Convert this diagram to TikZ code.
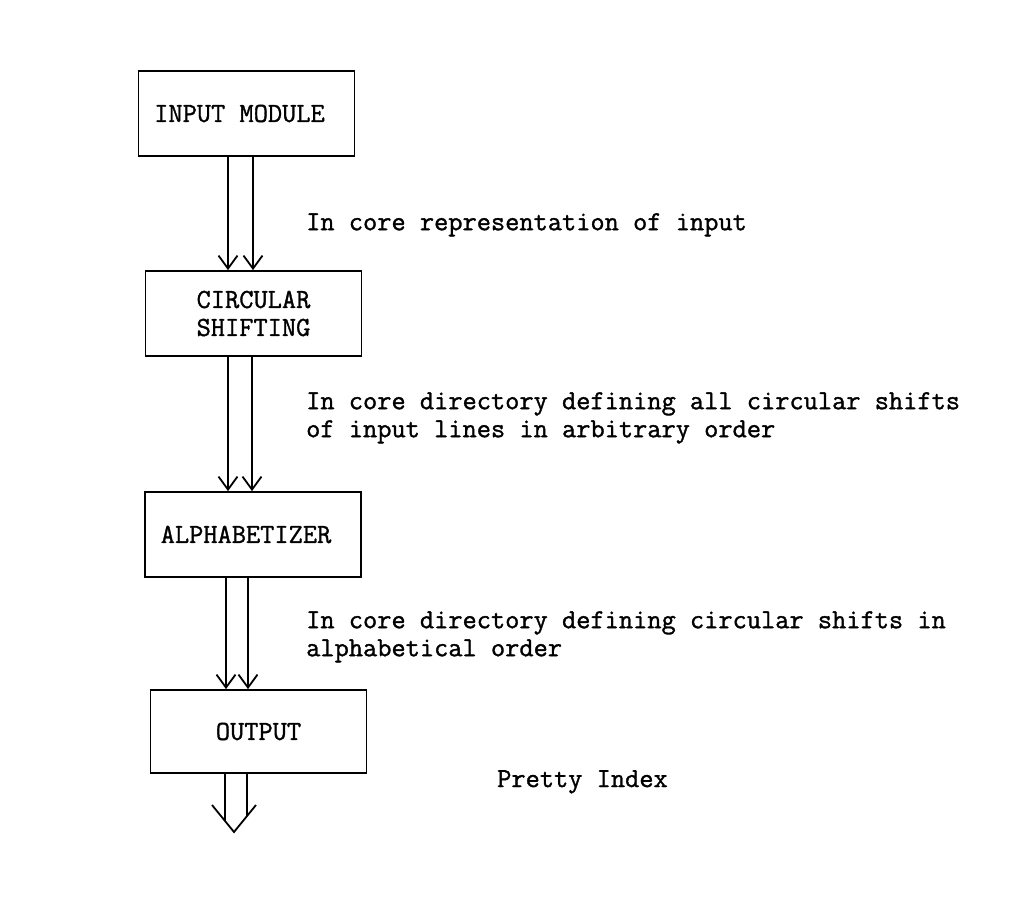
\documentclass[tikz,border=0pt]{standalone}
\usepackage{fontspec}
\newfontfamily\typer{Latin Modern Mono}[FakeBold=1.2]
\usepackage{tikz}
\usetikzlibrary{arrows.meta,positioning}

\begin{document}
\begin{tikzpicture}[
    x=1pt, y=-1pt,
    module/.style={draw, line width=1.8pt, minimum width=216pt, minimum height=85pt, inner sep=0pt, align=center, font=\typer\fontsize{27.6}{28}\selectfont},
    note/.style={anchor=north west, inner sep=0pt, align=left, font=\typer\fontsize{27.6}{28}\selectfont},
    flow/.style={line width=1.8pt, -{Straight Barb[length=13pt,width=19pt]}},
    shaft/.style={line width=1.8pt}
]
\useasboundingbox (0,0) rectangle (1018,904);
\node[module] (inmod) at (246.5,113.5) {INPUT MODULE\hspace*{14pt}};
\node[module] (circ) at (253.5,313.5) {CIRCULAR\\SHIFTING};
\node[module] (alpha) at (253,534.5) {ALPHABETIZER\hspace*{14pt}};
\node[module, minimum height=83pt] (outp) at (258.5,731.5) {OUTPUT};
\draw[flow] (inmod.south -| 228,0) -- (circ.north -| 228,0);
\draw[flow] (inmod.south -| 253,0) -- (circ.north -| 253,0);
\draw[flow] (circ.south -| 228,0) -- (alpha.north -| 228,0);
\draw[flow] (circ.south -| 252,0) -- (alpha.north -| 252,0);
\draw[flow] (alpha.south -| 226,0) -- (outp.north -| 226,0);
\draw[flow] (alpha.south -| 248,0) -- (outp.north -| 248,0);
% open head below the output
\coordinate (tip) at (234,832);
\coordinate (lbarb) at (212,805);
\coordinate (rbarb) at (256,805);
\coordinate (lend) at (225,821);
\coordinate (rend) at (247,816);
\draw[shaft] (outp.south -| lend) -- (lend);
\draw[shaft] (outp.south -| rend) -- (rend);
\draw[shaft] (lbarb) -- (tip) -- (rbarb);
\node[note] (t1) at (306,213) {In core representation of input};
\node[note] (t2) at (306,392) {In core directory defining all circular shifts\\of input lines in arbitrary order};
\node[note] (t3) at (306,611) {In core directory defining circular shifts in\\alphabetical order};
\node[note] (t4) at (497,770) {Pretty Index};
\end{tikzpicture}
\end{document}
